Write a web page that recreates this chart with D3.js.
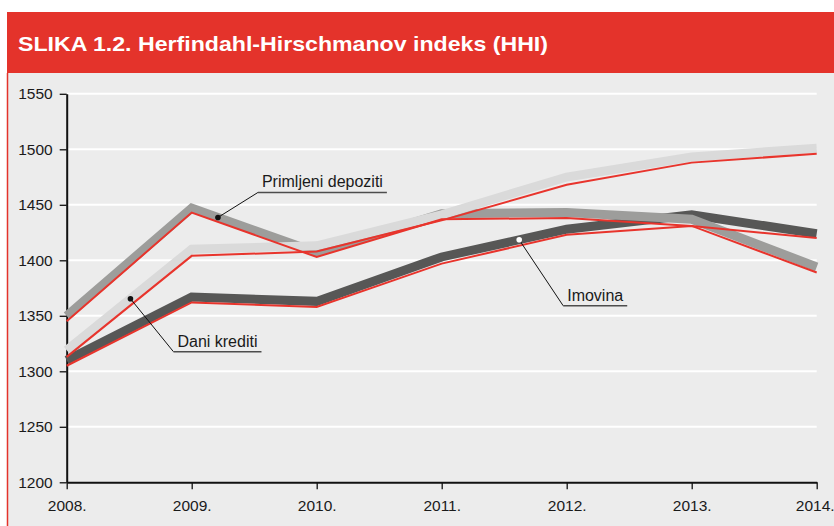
<!DOCTYPE html>
<html>
<head>
<meta charset="utf-8">
<script src="https://cdn.jsdelivr.net/npm/d3@7"></script>
<style>
    body { margin: 0; background: #fff; }
    svg { display: block; font-family: "Liberation Sans", Arial, sans-serif; }
    .axis path, .axis line { stroke: #111; }
    .axis text { fill: #1a1a1a; font-size: 15.5px; }
</style>
</head>
<body>
<div id="chart"></div>
<script>
// years on the x axis
const years = [2008, 2009, 2010, 2011, 2012, 2013, 2014];
const yTicks = [1200, 1250, 1300, 1350, 1400, 1450, 1500, 1550];

// thick grey series
const depozitiGray = [1350, 1447, 1407, 1442, 1443, 1437, 1394];
const kreditiGray  = [1319, 1410, 1413, 1441, 1475, 1493, 1501];
const imovinaGray  = [1310, 1367, 1363, 1403, 1428, 1441, 1424];
// thin red series
const depozitiRed = [1345, 1443, 1403, 1437, 1438, 1431, 1389];
const kreditiRed  = [1313, 1404, 1408, 1436, 1468, 1488, 1496];
const imovinaRed  = [1305, 1362, 1358, 1397, 1423, 1431, 1420];

const title = "SLIKA 1.2. Herfindahl-Hirschmanov indeks (HHI)";

class HhiChart {
    constructor() {
        this.width = 834;
        this.height = 526;
        this.svg = d3.select('#chart').append('svg')
            .attr('width', this.width)
            .attr('height', this.height);
        this.x = d3.scaleLinear().domain([2008, 2014]).range([66.7, 816.7]);
        this.y = d3.scaleLinear().domain([1200, 1550]).range([482.3, 93.8]);
        this.drawFrame();
        this.drawAxes();
        this.drawLines();
        this.drawLabels();
    }

    drawFrame() {
        // red header
        this.svg.append('rect')
            .attr('x', 7).attr('y', 12)
            .attr('width', this.width - 7).attr('height', 61)
            .attr('fill', '#e4332b');
        this.svg.append('text')
            .attr('x', 18).attr('y', 51)
            .attr('fill', '#fff')
            .attr('font-size', '21px')
            .attr('font-weight', 'bold')
            .attr('textLength', 530)
            .attr('lengthAdjust', 'spacingAndGlyphs')
            .text(title);
        // grey panel
        this.svg.append('rect')
            .attr('x', 7).attr('y', 73)
            .attr('width', this.width - 7).attr('height', this.height - 73)
            .attr('fill', '#ececec');
        this.svg.append('line')
            .attr('x1', 7.5).attr('x2', 7.5)
            .attr('y1', 73).attr('y2', this.height)
            .attr('stroke', '#e4332b').attr('stroke-width', 1.5);
    }

    drawAxes() {
        let that = this;
        // white gridlines
        this.svg.append('g').selectAll('line')
            .data(yTicks.slice(1))
            .join('line')
            .attr('x1', this.x(2008)).attr('x2', this.x(2014))
            .attr('y1', d => that.y(d)).attr('y2', d => that.y(d))
            .attr('stroke', '#fff').attr('stroke-width', 2);

        let yAxis = this.svg.append('g')
            .attr('class', 'axis')
            .attr('transform', `translate(${this.x(2008)},0)`)
            .call(d3.axisLeft(this.y).tickValues(yTicks).tickFormat(d3.format('d'))
                .tickSize(7).tickSizeOuter(0).tickPadding(7));
        let xAxis = this.svg.append('g')
            .attr('class', 'axis')
            .attr('transform', `translate(0,${this.y(1200)})`)
            .call(d3.axisBottom(this.x).tickValues(years).tickFormat(d => d + '.')
                .tickSize(7).tickSizeOuter(0).tickPadding(11));
        yAxis.select('.domain').attr('stroke-width', 2);
        xAxis.select('.domain').attr('stroke-width', 2);
        this.svg.selectAll('.axis .tick line').attr('stroke-width', 1.3);
        // last year label sits at the right edge, as in the print
        xAxis.selectAll('.tick text').filter(d => d === 2014).attr('dx', -2);
    }

    drawLines() {
        let that = this;
        const line = d3.line()
            .x((d, i) => that.x(years[i]))
            .y(d => that.y(d));
        const grays = [
            {values: imovinaGray, color: '#575756'},
            {values: depozitiGray, color: '#9d9d9b'},
            {values: kreditiGray, color: '#dadada'}
        ];
        const reds = [imovinaRed, depozitiRed, kreditiRed];

        this.svg.append('g').selectAll('path')
            .data(grays)
            .join('path')
            .attr('d', d => line(d.values))
            .attr('fill', 'none')
            .attr('stroke', d => d.color)
            .attr('stroke-width', 9)
            .attr('stroke-linejoin', 'miter');
        this.svg.append('g').selectAll('path')
            .data(reds)
            .join('path')
            .attr('d', d => line(d))
            .attr('fill', 'none')
            .attr('stroke', '#e8342c')
            .attr('stroke-width', 2);
    }

    // value of a series at a fractional year
    valueAt(values, year) {
        let i = Math.min(Math.floor(year - 2008), values.length - 2);
        let t = year - 2008 - i;
        return values[i] + (values[i + 1] - values[i]) * t;
    }

    drawLabels() {
        const notes = [
            {text: 'Primljeni depoziti', values: depozitiGray, at: 2009.21, dx: 40, dy: -25, dot: '#111'},
            {text: 'Dani krediti', values: kreditiGray, at: 2008.51, dx: 43, dy: 53, dot: '#111'},
            {text: 'Imovina', values: imovinaGray, at: 2011.62, dx: 44, dy: 66, dot: '#fff'}
        ];
        let g = this.svg.append('g');
        for (let n of notes) {
            let px = this.x(n.at);
            let py = this.y(this.valueAt(n.values, n.at));
            let ex = px + n.dx, ey = py + n.dy;
            let label = g.append('text')
                .attr('x', ex + 4).attr('y', ey - 5)
                .attr('font-size', '16px')
                .attr('fill', '#1a1a1a')
                .text(n.text);
            let w = label.node().getComputedTextLength();
            g.append('line')
                .attr('x1', px).attr('y1', py).attr('x2', ex).attr('y2', ey)
                .attr('stroke', '#111').attr('stroke-width', 1);
            g.append('line')
                .attr('x1', ex).attr('y1', ey).attr('x2', ex + w + 8).attr('y2', ey)
                .attr('stroke', '#4d4d4d').attr('stroke-width', 1.5);
            g.append('circle')
                .attr('cx', px).attr('cy', py).attr('r', 2.8)
                .attr('fill', n.dot);
        }
    }
}

new HhiChart();
</script>
</body>
</html>
